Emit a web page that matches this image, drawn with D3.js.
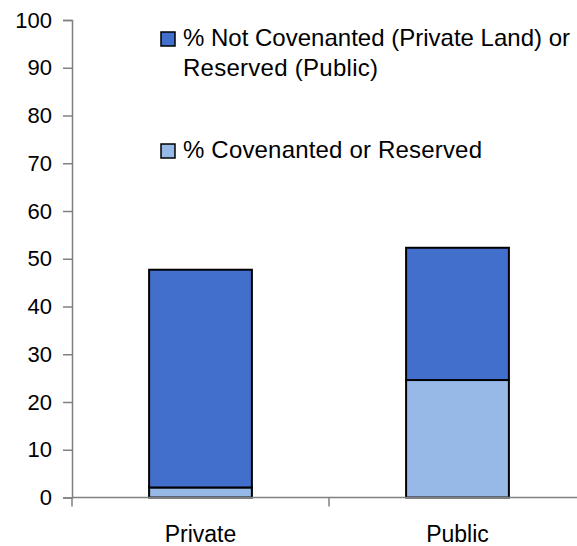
<!DOCTYPE html>
<html><head><meta charset="utf-8">
<script src="https://cdn.jsdelivr.net/npm/d3@7"></script>
<style>body{margin:0;background:#fff}svg{display:block}</style>
</head><body>
<svg id="c" width="577" height="546"></svg>
<script>
const categories = ["Private", "Public"];
const covenanted = [2.1, 24.6];
const notCovenanted = [45.6, 27.7];
const yTicks = [0,10,20,30,40,50,60,70,80,90,100];
const seriesNames = ["% Not Covenanted (Private Land) or|Reserved (Public)", "% Covenanted or Reserved"];
const colors = {cov:"#96b9e8", notcov:"#426fcb"};

const svg = d3.select("#c");
const font = "'Liberation Sans', Arial, sans-serif";
const y = d3.scaleLinear().domain([0,100]).range([497.5,20]);
const x = d3.scaleBand().domain(categories).range([72,586]).padding(0);
const axisColor = "#808080";

const data = categories.map((c,i)=>({c, cov:covenanted[i], notcov:notCovenanted[i]}));
const stack = d3.stack().keys(["cov","notcov"])(data);
const bw = x.bandwidth()*0.4;

svg.append("g").selectAll("g").data(stack).join("g")
  .attr("fill", d=>colors[d.key])
  .selectAll("rect").data(d=>d).join("rect")
  .attr("x", d=>x(d.data.c)+x.bandwidth()/2-bw/2)
  .attr("width", bw)
  .attr("y", d=>y(d[1]))
  .attr("height", d=>y(d[0])-y(d[1]))
  .attr("stroke","#000").attr("stroke-width",2);

// y axis
const ya = svg.append("g").attr("transform","translate(72,0)")
  .call(d3.axisLeft(y).tickValues(yTicks).tickSize(9).tickPadding(11));
ya.select(".domain").attr("stroke",axisColor).attr("stroke-width",1.5);
ya.selectAll(".tick line").attr("stroke",axisColor).attr("stroke-width",1.5);
ya.selectAll(".tick text").attr("font-family",font).attr("font-size",22).attr("fill","#000");

// x axis
const xa = svg.append("g").attr("transform","translate(0,497.5)");
xa.append("line").attr("x1",72).attr("x2",577).attr("stroke",axisColor).attr("stroke-width",1.5);
xa.selectAll("line.t").data(categories).join("line").attr("class","t")
  .attr("x1",d=>x(d)).attr("x2",d=>x(d)).attr("y1",0).attr("y2",9)
  .attr("stroke",axisColor).attr("stroke-width",1.5);
xa.selectAll("text").data(categories).join("text")
  .attr("x",d=>x(d)+x.bandwidth()/2).attr("y",44)
  .attr("text-anchor","middle").attr("font-family",font).attr("font-size",23)
  .text(d=>d);

// legend
const leg = svg.append("g");
const legItems = [
  {name:seriesNames[0], color:colors.notcov, y:46, widths:[387,195]},
  {name:seriesNames[1], color:colors.cov, y:158, widths:[299]}
];
legItems.forEach(it=>{
  leg.append("rect").attr("x",161).attr("y",it.y-14).attr("width",14).attr("height",14)
    .attr("fill",it.color).attr("stroke","#000").attr("stroke-width",1.5);
  const t = leg.append("text").attr("font-family",font).attr("font-size",24).attr("y",it.y);
  it.name.split("|").forEach((ln,k)=>{
    t.append("tspan").attr("x",183).attr("dy",k?30:0)
      .attr("textLength",it.widths[k]).attr("lengthAdjust","spacing").text(ln);
  });
});
</script>
</body></html>
